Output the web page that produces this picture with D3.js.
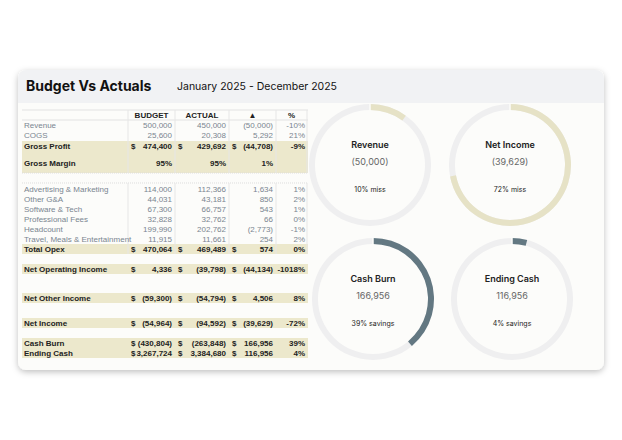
<!DOCTYPE html>
<html><head><meta charset="utf-8">
<script src="https://cdn.jsdelivr.net/npm/d3@7"></script>
<style>body{margin:0;background:#fff;}</style>
</head><body>
<svg id="chart" width="622" height="440"></svg>
<script>
var svg = d3.select("#chart");

// Data
var columns = ["BUDGET", "ACTUAL", "\u25B2", "%"];
var rowLabels = ["Revenue", "COGS", "Gross Profit", "Gross Margin", "", "Advertising & Marketing", "Other G&A", "Software & Tech", "Professional Fees", "Headcount", "Travel, Meals & Entertainment", "Total Opex", "", "Net Operating Income", "", "", "Net Other Income", "", "Net Income", "", "Cash Burn", "Ending Cash"];
var rowY = [125, 135, 146, 163, 0, 189, 199, 209, 219, 229, 239, 249, 0, 269, 0, 0, 298, 0, 323, 0, 343, 353];
var budget = ["500,000", "25,600", "474,400", "95%", "", "114,000", "44,031", "67,300", "32,828", "199,990", "11,915", "470,064", "", "4,336", "", "", "(59,300)", "", "(54,964)", "", "(430,804)", "3,267,724"];
var actual = ["450,000", "20,308", "429,692", "95%", "", "112,366", "43,181", "66,757", "32,762", "202,762", "11,661", "469,489", "", "(39,798)", "", "", "(54,794)", "", "(94,592)", "", "(263,848)", "3,384,680"];
var delta = ["(50,000)", "5,292", "(44,708)", "1%", "", "1,634", "850", "543", "66", "(2,773)", "254", "574", "", "(44,134)", "", "", "4,506", "", "(39,629)", "", "166,956", "116,956"];
var pct = ["-10%", "21%", "-9%", "", "", "1%", "2%", "1%", "0%", "-1%", "2%", "0%", "", "-1018%", "", "", "8%", "", "-72%", "", "39%", "4%"];
var bold = [0, 0, 1, 1, 0, 0, 0, 0, 0, 0, 0, 1, 0, 1, 0, 0, 1, 0, 1, 0, 1, 1];

var gaugeTitles = ["Revenue", "Net Income", "Cash Burn", "Ending Cash"];
var gaugeValues = ["(50,000)", "(39,629)", "166,956", "116,956"];
var gaugeNotes = ["10% miss", "72% miss", "39% savings", "4% savings"];
var gaugeShare = [0.10, 0.72, 0.39, 0.04];

var defs = svg.append("defs");
var f = defs.append("filter").attr("id", "sh").attr("x", "-5%").attr("y", "-5%").attr("width", "110%").attr("height", "115%");
f.append("feDropShadow").attr("dx", 0).attr("dy", 2).attr("stdDeviation", 3).attr("flood-color", "#000").attr("flood-opacity", 0.25);

// card
svg.append("rect").attr("x", 18).attr("y", 70).attr("width", 586).attr("height", 300).attr("rx", 8)
  .attr("fill", "#fcfcfa").attr("filter", "url(#sh)");
svg.append("path").attr("d", "M18,103 V78 a8,8 0 0 1 8,-8 H596 a8,8 0 0 1 8,8 V103 Z").attr("fill", "#f1f2f4");
svg.append("text").attr("x", 26).attr("y", 91).style("font-family", "Inter").style("font-weight", "bold")
  .style("font-size", "14px").attr("fill", "#111").text("Budget Vs Actuals");
svg.append("text").attr("x", 177).attr("y", 90).style("font-family", "Inter").style("font-size", "10.5px")
  .attr("fill", "#111").text("January 2025 - December 2025");

// table
var colEdges = [128, 175, 229, 276, 307];
var band = "#ece8cc";
var bands = [[141, 152], [152, 173], [244, 254], [264, 274], [293, 303], [318, 328], [338, 358]];
bands.forEach(function(b) {
  svg.append("rect").attr("x", 22).attr("y", b[0]).attr("width", 286).attr("height", b[1] - b[0]).attr("fill", band);
});
svg.append("line").attr("x1", 22).attr("x2", 308).attr("y1", 173).attr("y2", 173).attr("stroke", "#ddd").attr("stroke-dasharray", "1,1");
svg.append("line").attr("x1", 22).attr("x2", 308).attr("y1", 183).attr("y2", 183).attr("stroke", "#ddd").attr("stroke-dasharray", "1,1");
[110, 120].forEach(function(y) {
  svg.append("line").attr("x1", 22).attr("x2", 308).attr("y1", y).attr("y2", y).attr("stroke", "#e2e2e2");
});
colEdges.forEach(function(x) {
  svg.append("line").attr("x1", x).attr("x2", x).attr("y1", 110).attr("y2", 173).attr("stroke", "#e6e6e6");
  svg.append("line").attr("x1", x).attr("x2", x).attr("y1", 183).attr("y2", 254).attr("stroke", "#e6e6e6");
});
columns.forEach(function(c, i) {
  svg.append("text").attr("x", (colEdges[i] + colEdges[i + 1]) / 2).attr("y", 118).attr("text-anchor", "middle")
    .style("font-family", "Liberation Sans").style("font-weight", "bold").style("font-size", "8px").attr("fill", "#222").text(c);
});
var tf = "Liberation Sans";
rowLabels.forEach(function(l, i) {
  if (!l) return;
  var y = rowY[i] + 3, b = bold[i], col = b ? "#222" : "#7a8590", fw = b ? "bold" : "normal";
  function t(x, s, anchor) {
    svg.append("text").attr("x", x).attr("y", y).attr("text-anchor", anchor || "end")
      .style("font-family", tf).style("font-size", "8px").style("font-weight", fw).attr("fill", col).text(s);
  }
  t(24, l, "start");
  var dollar = b && i !== 3;
  t(172, budget[i]); t(226, actual[i]); t(273, delta[i]); t(305, pct[i]);
  if (dollar) { t(131, "$", "start"); t(178, "$", "start"); t(232, "$", "start"); }
});

// gauges
var centers = [[370, 165], [510, 165], [373, 299], [512, 299]];
var arc = d3.arc().innerRadius(55).outerRadius(61);
var colors = ["#e6e2c6", "#e6e2c6", "#637882", "#637882"];
var scale = d3.scaleLinear().domain([0, 1]).range([0, 2 * Math.PI]);
gaugeTitles.forEach(function(g, i) {
  var gg = svg.append("g").attr("transform", "translate(" + centers[i] + ")");
  gg.append("path").attr("d", arc({startAngle: 0, endAngle: 2 * Math.PI})).attr("fill", "#efeff0");
  gg.append("path").attr("d", arc({startAngle: 0, endAngle: scale(gaugeShare[i])})).attr("fill", colors[i]);
  gg.append("line").attr("x1", 0).attr("x2", 0).attr("y1", -62).attr("y2", -54).attr("stroke", "#fcfcfa").attr("stroke-width", 1.5);
  gg.append("text").attr("y", -17).attr("text-anchor", "middle").style("font-family", "Inter").style("font-weight", "600")
    .style("font-size", "9px").attr("fill", "#222").text(g);
  gg.append("text").attr("y", 0).attr("text-anchor", "middle").style("font-family", "Inter")
    .style("font-size", "9px").attr("fill", "#666").text(gaugeValues[i]);
  gg.append("text").attr("y", 27).attr("text-anchor", "middle").style("font-family", "Inter")
    .style("font-size", "7px").attr("fill", "#222").text(gaugeNotes[i]);
});
</script>
</body></html>
